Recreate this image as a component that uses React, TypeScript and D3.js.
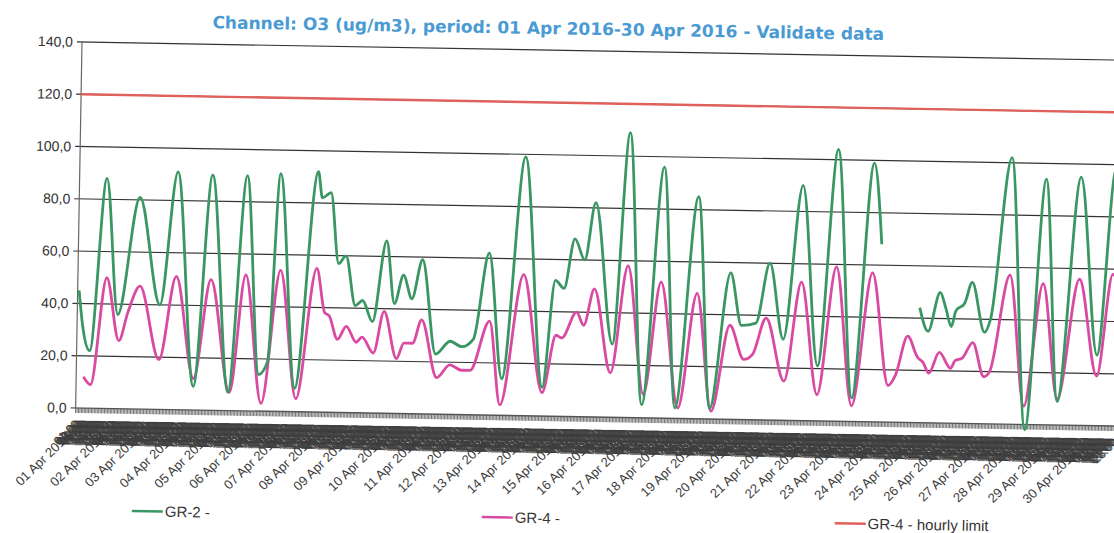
import React, { useRef, useEffect } from 'react';
import * as d3 from 'd3';

// O3 hourly values, April 2016: [hour since 01 Apr 00:00, ug/m3], null = missing
const title = 'Channel: O3 (ug/m3), period: 01 Apr 2016-30 Apr 2016 - Validate data';
const yTicks = [0, 20, 40, 60, 80, 100, 120, 140];
const dayLabels = [
  '01 Apr 2016', '02 Apr 2016', '03 Apr 2016', '04 Apr 2016', '05 Apr 2016', '06 Apr 2016',
  '07 Apr 2016', '08 Apr 2016', '09 Apr 2016', '10 Apr 2016', '11 Apr 2016', '12 Apr 2016',
  '13 Apr 2016', '14 Apr 2016', '15 Apr 2016', '16 Apr 2016', '17 Apr 2016', '18 Apr 2016',
  '19 Apr 2016', '20 Apr 2016', '21 Apr 2016', '22 Apr 2016', '23 Apr 2016', '24 Apr 2016',
  '25 Apr 2016', '26 Apr 2016', '27 Apr 2016', '28 Apr 2016', '29 Apr 2016', '30 Apr 2016'
];
const hourLabels = [
  '00:00', '01:00', '02:00', '03:00', '04:00', '05:00', '06:00', '07:00', '08:00', '09:00', '10:00', '11:00',
  '12:00', '13:00', '14:00', '15:00', '16:00', '17:00', '18:00', '19:00', '20:00', '21:00', '22:00', '23:00'
];
const hourlyLimit = 120;

const gr2: [number, number | null][] = [
  [1, 45], [4, 31], [9, 22], [19, 88], [28, 36], [42, 81], [57, 40], [68, 91], [81, 9], [92, 90],
  [105, 7], [116, 90], [126, 14], [132, 19], [139, 91], [151, 9], [165, 92], [168, 82], [174, 84],
  [180, 57], [185, 60], [192, 41], [197, 43], [204, 35], [213, 66], [219, 42], [225, 53], [231, 44],
  [238, 59], [248, 23], [258, 28], [266, 26], [274, 29], [284, 62], [294, 14], [308, 99], [322, 11],
  [330, 52], [336, 49], [343, 68], [350, 60], [357, 82], [370, 28], [380, 109], [391, 5], [404, 96],
  [414, 4], [428, 85], [438, 4], [451, 56], [459, 36], [469, 37], [478, 60], [488, 31], [500, 90],
  [512, 21], [524, 104], [536, 9], [549, 99], [555, 68], [556, null],
  [582, 44], [588, 35], [596, 50], [600, 44], [604, 37], [607, 43], [613, 46], [618, 54], [627, 35],
  [631, 40], [644, 102], [656, -2], [668, 94], [678, 9], [692, 95], [705, 27], [716, 98], [719, 93]
];

const gr4: [number, number | null][] = [
  [5, 12], [10, 9], [20, 50], [29, 26], [35, 37], [43, 47], [57, 19], [68, 51], [81, 12], [92, 50],
  [106, 7], [116, 52], [128, 3], [140, 54], [152, 5], [165, 55], [171, 38], [174, 37], [180, 28],
  [186, 33], [193, 27], [197, 29], [205, 23], [212, 39], [221, 21], [226, 27], [232, 27], [238, 36],
  [249, 14], [258, 19], [266, 17], [272, 17], [285, 36], [293, 4], [308, 54], [322, 9], [331, 31],
  [335, 30], [345, 40], [350, 35], [357, 49], [369, 17], [380, 58], [392, 9], [403, 52], [416, 4],
  [428, 48], [439, 3], [451, 36], [461, 23], [467, 25], [476, 39], [489, 15], [500, 53], [512, 10],
  [524, 59], [536, 6], [549, 57], [561, 14], [566, 18], [574, 33], [581, 25], [585, 23], [589, 19],
  [596, 27], [604, 21], [607, 24], [612, 25], [619, 31], [627, 18], [631, 20], [644, 57], [655, 7],
  [667, 54], [678, 10], [692, 56], [705, 19], [715, 58], [719, 55]
];

const W = 1114;
const H = 533;
const FONT = '"Liberation Sans", Arial, sans-serif';

export default function App() {
  const ref = useRef<SVGSVGElement>(null);

  useEffect(() => {
    const svg = d3.select(ref.current);
    svg.selectAll('*').remove();

    const left = 82, top = 42, right = 1124, bottom = 408;
    const x = d3.scaleLinear().domain([0, 720]).range([left, right]);
    const y = d3.scaleLinear().domain([0, 140]).range([bottom, top]);

    svg.append('rect').attr('width', W).attr('height', H).attr('fill', '#fff');

    // the scanned page sits slightly askew
    const g = svg.append('g').attr('transform', `rotate(1, ${left}, ${top})`);

    // title
    g.append('text')
      .attr('x', 548)
      .attr('y', 26)
      .attr('text-anchor', 'middle')
      .attr('font-family', '"DejaVu Sans", Verdana, sans-serif')
      .attr('font-weight', 'bold')
      .attr('font-size', 17)
      .attr('fill', '#4a9ad4')
      .text(title);

    // grid + y labels
    yTicks.forEach(t => {
      g.append('line')
        .attr('x1', left - 5).attr('x2', right)
        .attr('y1', y(t)).attr('y2', y(t))
        .attr('stroke', t === 0 ? '#555' : '#333')
        .attr('stroke-width', t === 0 ? 1.4 : 1.2);
      g.append('text')
        .attr('x', left - 9)
        .attr('y', y(t))
        .attr('dy', '0.35em')
        .attr('text-anchor', 'end')
        .attr('font-family', FONT)
        .attr('font-size', 14)
        .attr('fill', '#333')
        .text(d3.format('.1f')(t).replace('.', ','));
    });

    g.append('line')
      .attr('x1', left).attr('x2', left)
      .attr('y1', top).attr('y2', bottom)
      .attr('stroke', '#666').attr('stroke-width', 1.2);

    // hourly ticks
    const hours = d3.range(0, 720);
    g.append('g').selectAll('line').data(hours).join('line')
      .attr('x1', d => x(d)).attr('x2', d => x(d))
      .attr('y1', bottom).attr('y2', bottom + 5)
      .attr('stroke', '#555').attr('stroke-width', 0.8);

    // day labels
    g.append('g').selectAll('text').data(dayLabels).join('text')
      .attr('transform', (_, i) => `translate(${x(i * 24) - 4},${bottom + 30}) rotate(-45)`)
      .attr('text-anchor', 'end')
      .attr('font-family', FONT)
      .attr('font-size', 13)
      .attr('fill', '#3c3c3c')
      .text(d => d);

    // hourly labels (overlap into a dark band, as in the print)
    g.append('g').selectAll('text').data(hours.filter(h => h % 24 !== 0)).join('text')
      .attr('transform', d => `translate(${x(d) + 3},${bottom + 17}) rotate(-45)`)
      .attr('text-anchor', 'end')
      .attr('font-family', FONT)
      .attr('font-size', 12)
      .attr('fill', '#3d3d3d')
      .text(d => hourLabels[d % 24]);

    // limit line
    g.append('line')
      .attr('x1', x(0)).attr('x2', x(720))
      .attr('y1', y(hourlyLimit)).attr('y2', y(hourlyLimit))
      .attr('stroke', '#e0605c').attr('stroke-width', 2.4);

    const line = d3.line<[number, number | null]>()
      .defined(d => d[1] !== null)
      .x(d => x(d[0]))
      .y(d => y(d[1] as number))
      .curve(d3.curveMonotoneX);

    g.append('path').datum(gr4)
      .attr('fill', 'none').attr('stroke', '#d94aa3').attr('stroke-width', 2.8)
      .attr('d', line);
    g.append('path').datum(gr2)
      .attr('fill', 'none').attr('stroke', '#3a9763').attr('stroke-width', 2.8)
      .attr('d', line);

    // legend
    const legend = [
      { name: 'GR-2 -', color: '#3a9763', x: 140 },
      { name: 'GR-4 -', color: '#d94aa3', x: 490 },
      { name: 'GR-4 - hourly limit', color: '#e0605c', x: 843 }
    ];
    legend.forEach(l => {
      g.append('line')
        .attr('x1', l.x).attr('x2', l.x + 31)
        .attr('y1', 510).attr('y2', 510)
        .attr('stroke', l.color).attr('stroke-width', 2.4);
      g.append('text')
        .attr('x', l.x + 33).attr('y', 510).attr('dy', '0.35em')
        .attr('font-family', FONT).attr('font-size', 15).attr('fill', '#333')
        .text(l.name);
    });
  }, []);

  return (
    <svg ref={ref} width={W} height={H}
      style={{ position: 'absolute', left: 0, top: 0, display: 'block' }} />
  );
}
